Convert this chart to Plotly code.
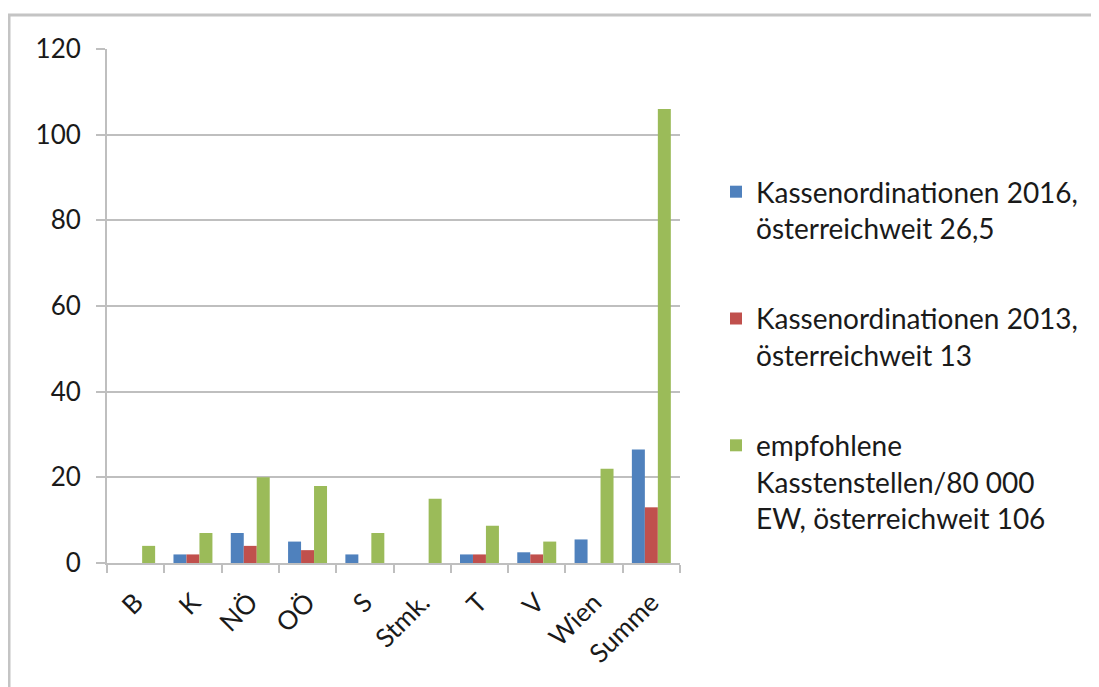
import plotly.graph_objects as go

categories = ["B", "K", "NÖ", "OÖ", "S", "Stmk.", "T", "V", "Wien", "Summe"]
ordinationen_2016 = [0, 2, 7, 5, 2, 0, 2, 2.5, 5.5, 26.5]
ordinationen_2013 = [0, 2, 4, 3, 0, 0, 2, 2, 0, 13]
empfohlen = [4, 7, 20, 18, 7, 15, 8.7, 5, 22, 106]

names = [
    "Kassenordinationen 2016,<br>österreichweit 26,5",
    "Kassenordinationen 2013,<br>österreichweit 13",
    "empfohlene<br>Kasstenstellen/80 000<br>EW, österreichweit 106",
]
colors = ["#4F81BD", "#C0504D", "#9BBB59"]
series = [ordinationen_2016, ordinationen_2013, empfohlen]

FONT = "Lato"
GRID = "#bfbfbf"
TXT = "#1a1a1a"

W, H = 1091, 679
L, T, PW, PH = 99, 41, 573, 514

fig = go.Figure()
for i, (vals, name, col) in enumerate(zip(series, names, colors)):
    fig.add_trace(go.Bar(
        x=categories, y=vals, name=name, marker_color=col,
        marker_line_width=0, legendgroup=f"g{i}",
    ))

fig.update_layout(
    width=W, height=H,
    paper_bgcolor="white", plot_bgcolor="white",
    margin=dict(l=L, r=W - L - PW, t=T, b=H - T - PH),
    barmode="group", bargap=0.32, bargroupgap=0,
    font=dict(family=FONT, color=TXT),
    showlegend=True,
    legend=dict(
        xref="container", yref="container",
        x=708 / W, y=1 - 159 / H, xanchor="left", yanchor="top",
        font=dict(size=28, family=FONT, color=TXT),
        tracegroupgap=51, valign="top", bgcolor="rgba(0,0,0,0)",
        maxheight=650,
    ),
    xaxis=dict(
        type="category", tickangle=-45,
        tickfont=dict(size=26, family=FONT, color=TXT),
        showline=True, linecolor=GRID, linewidth=2,
        ticks="outside", tickson="boundaries", ticklen=8,
        tickcolor=GRID, tickwidth=1.5, showgrid=False,
        ticklabelstandoff=12,
    ),
    yaxis=dict(
        range=[0, 120], dtick=20, tick0=0,
        tickfont=dict(size=26, family=FONT, color=TXT),
        showline=True, linecolor=GRID, linewidth=2,
        ticks="outside", ticklen=9, tickcolor=GRID, tickwidth=2,
        showgrid=True, gridcolor=GRID, gridwidth=2,
        zeroline=False, ticklabelstandoff=10,
    ),
    shapes=[dict(
        type="rect", xref="paper", yref="paper",
        x0=(1 - L) / PW, x1=(W + 20 - L) / PW,
        y0=(T + PH - (H + 30)) / PH, y1=(T + PH - 7) / PH,
        line=dict(color="#c4c4c4", width=3), layer="below",
    )],
)

fig.write_html("out.html")
